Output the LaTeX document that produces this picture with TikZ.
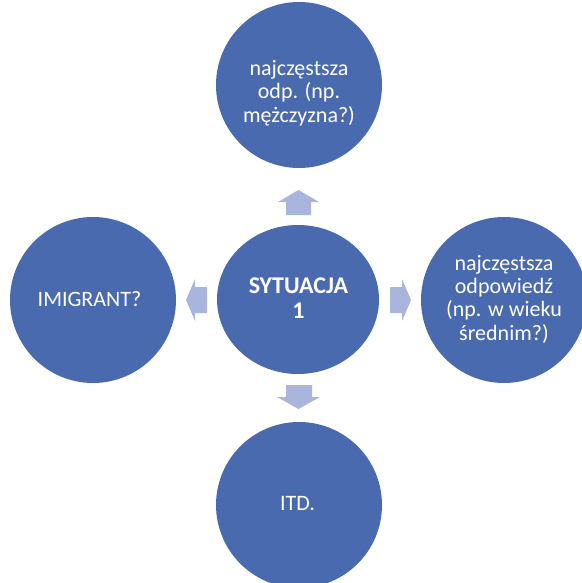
\documentclass[tikz,border=0pt]{standalone}
\usepackage{fontspec}
\setmainfont{Carlito}
\usetikzlibrary{shapes.geometric}
\definecolor{circblue}{HTML}{4A6AB0}
\definecolor{arrblue}{HTML}{A9B5DC}
\begin{document}
\begin{tikzpicture}[x=1pt,y=-1pt,
  bubble/.style={ellipse, fill=circblue, draw=none, inner sep=0pt},
  lbl/.style={text=white, font=\fontsize{22}{23.3}\selectfont, align=center, inner sep=0pt, anchor=base},
  blockarrow/.style={fill=arrblue, draw=none}]
\useasboundingbox (0,0) rectangle (581,583);
% shapes
\node[bubble, minimum width=166pt, minimum height=166pt] (top) at (299,85) {};
\node[bubble, minimum width=162pt, minimum height=149pt] (mid) at (298,299.5) {};
\node[bubble, minimum width=166pt, minimum height=166pt] (left) at (93,300) {};
\node[bubble, minimum width=166pt, minimum height=166pt] (right) at (504,300) {};
\node[bubble, minimum width=166pt, minimum height=166pt] (bottom) at (299,505) {};
% labels (base anchor = baseline of the last line)
\node[lbl] (topT) at (299,122) {najczęstsza\\odp. (np.\\mężczyzna?)};
\node[lbl] (rightT) at (504,340) {najczęstsza\\odpowiedź\\(np. w wieku\\średnim?)};
\node[lbl] (leftT) at (89.5,306) {IMIGRANT?};
\node[lbl, font=\fontsize{24}{25}\selectfont\bfseries] (midT) at (298.5,318) {SYTUACJA\\1};
\node[lbl] (bottomT) at (297.5,510) {ITD.};
% block arrows
\fill[blockarrow] (286,215) -- (286,202) -- (278,202) -- (298.5,190) -- (319,202) -- (311,202) -- (311,215) -- cycle;
\fill[blockarrow] (286,385) -- (286,397) -- (277,397) -- (298.5,409) -- (320,397) -- (312,397) -- (312,385) -- cycle;
\fill[blockarrow] (207,287) -- (195,287) -- (195,279) -- (186,300) -- (195,321) -- (195,313) -- (207,313) -- cycle;
\fill[blockarrow] (390,287) -- (402,287) -- (402,279) -- (411,300) -- (402,321) -- (402,313) -- (390,313) -- cycle;
\end{tikzpicture}
\end{document}
